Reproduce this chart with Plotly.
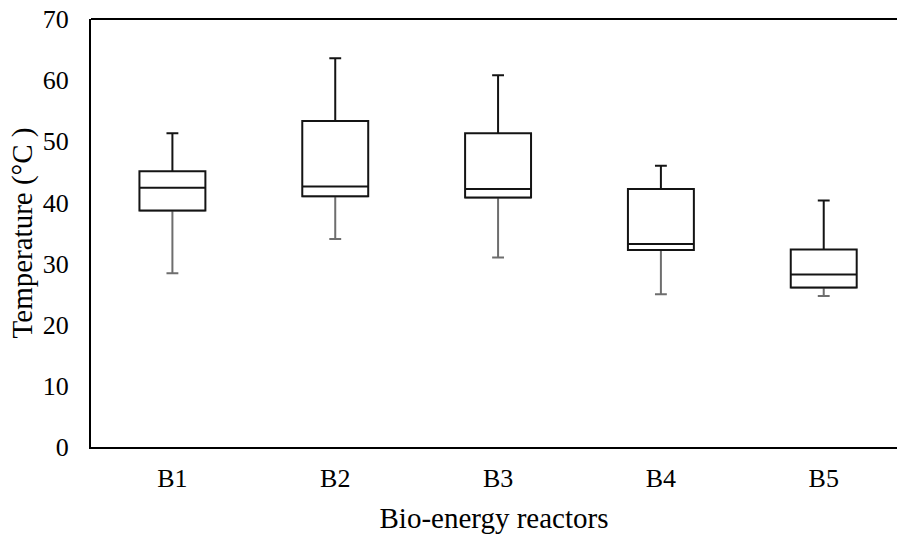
import plotly.graph_objects as go

categories = ["B1", "B2", "B3", "B4", "B5"]
lower_whisker = [28.4, 34.0, 31.0, 25.0, 24.7]
q1_values = [38.7, 41.0, 40.8, 32.2, 26.1]
median_values = [42.4, 42.6, 42.2, 33.2, 28.2]
q3_values = [45.1, 53.3, 51.3, 42.2, 32.3]
upper_whisker = [51.3, 63.6, 60.8, 46.0, 40.3]
y_ticks = [0, 10, 20, 30, 40, 50, 60, 70]

fig = go.Figure()
# lower whiskers (grey), drawn first
fig.add_trace(go.Box(
    x=categories,
    q1=q1_values, median=q1_values, q3=q1_values,
    lowerfence=lower_whisker, upperfence=q1_values,
    fillcolor="white",
    line=dict(color="#6e6e6e", width=2),
    whiskerwidth=0.18, width=0.405,
    boxpoints=False, showlegend=False, hoverinfo="skip",
))
# boxes + upper whiskers (black)
fig.add_trace(go.Box(
    x=categories,
    q1=q1_values, median=median_values, q3=q3_values,
    lowerfence=q1_values, upperfence=upper_whisker,
    fillcolor="white",
    line=dict(color="#141414", width=2),
    whiskerwidth=0.18, width=0.405,
    boxpoints=False, showlegend=False, hoverinfo="skip",
))

font_family = "Liberation Serif, Times New Roman, serif"
fig.update_layout(
    width=897, height=537,
    boxmode="overlay",
    margin=dict(l=91, r=0, t=19, b=90),
    paper_bgcolor="white", plot_bgcolor="white",
    font=dict(family=font_family, color="black", size=26),
    xaxis=dict(
        type="category",
        range=[-0.5, 4.45],
        showline=True, linecolor="black", linewidth=2,
        showgrid=False, ticks="", ticklabelstandoff=7,
        tickfont=dict(size=26),
        title=dict(text="Bio-energy reactors", font=dict(size=29), standoff=15),
    ),
    yaxis=dict(
        range=[0, 70],
        tickvals=y_ticks,
        showline=True, linecolor="black", linewidth=2,
        showgrid=False, zeroline=False, ticks="", ticklabelstandoff=15,
        tickfont=dict(size=26),
        title=dict(text="Temperature (°C )", font=dict(size=29), standoff=2),
    ),
    shapes=[dict(type="line", xref="paper", yref="paper", x0=0, x1=1, y0=1, y1=1,
                 line=dict(color="black", width=2))],
)

fig.write_html("out.html")
